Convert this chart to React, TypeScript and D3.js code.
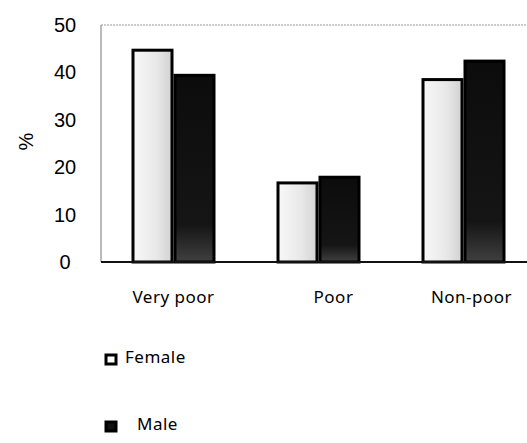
import React from "react";
import * as d3 from "d3";

const categories = ["Very poor", "Poor", "Non-poor"];
const seriesNames = ["Female", "Male"];
const femaleValues = [45, 17, 38.8];
const maleValues = [39.7, 18.2, 42.7];
const yTicks = [0, 10, 20, 30, 40, 50];

const W = 527;
const H = 443;

export default function App() {
  const x = d3.scaleBand<string>().domain(categories).range([101, 536]).paddingInner(0).paddingOuter(0);
  const y = d3.scaleLinear().domain([0, 50]).range([262, 25]);
  const barW = 42;
  const labelDx = [0, 15, 8];
  const fills = ["url(#femFill)", "url(#maleFill)"];
  const series = [femaleValues, maleValues];
  const labelFont = "Noto Sans, sans-serif";

  return (
    <svg width={W} height={H} style={{ position: "absolute", left: 0, top: 0, background: "#fff" }}>
      <defs>
        <linearGradient id="femFill" x1="0" y1="0" x2="1" y2="0">
          <stop offset="0" stopColor="#f8f8f8" />
          <stop offset="0.6" stopColor="#e8e8e8" />
          <stop offset="1" stopColor="#d2d2d2" />
        </linearGradient>
        <linearGradient id="maleFill" x1="0" y1="0" x2="0" y2="1">
          <stop offset="0" stopColor="#0c0c0c" />
          <stop offset="0.8" stopColor="#151515" />
          <stop offset="1" stopColor="#404040" />
        </linearGradient>
      </defs>
      <line x1={101} x2={W} y1={y(50)} y2={y(50)} stroke="#999" strokeWidth={1} strokeDasharray="2,1" />
      <line x1={101} x2={101} y1={y(50)} y2={y(0)} stroke="#777" strokeWidth={1} />
      {yTicks.map((t) => (
        <text key={t} x={65} y={y(t)} dy="0.35em" textAnchor="middle" fontFamily="Liberation Sans, Arial, sans-serif" fontSize={20} fill="#000">
          {t}
        </text>
      ))}
      <text transform={`translate(26,${(y(50) + y(0)) / 2 - 2}) rotate(-90)`} textAnchor="middle" dy="0.35em" fontFamily="Liberation Sans, Arial, sans-serif" fontSize={20} fill="#000">
        %
      </text>
      {categories.map((c, i) => {
        const cx = (x(c) as number) + x.bandwidth() / 2;
        return (
          <g key={c}>
            {series.map((vals, s) => (
              <rect
                key={s}
                x={cx - barW + s * barW + 1.5}
                y={y(vals[i]) + 1.5}
                width={barW - 3}
                height={y(0) - y(vals[i]) - 1.5}
                fill={fills[s]}
                stroke="#000"
                strokeWidth={3}
              />
            ))}
            <text x={cx + labelDx[i]} y={303} textAnchor="middle" fontFamily={labelFont} fontSize={17} letterSpacing={0.5} fill="#000">
              {c}
            </text>
          </g>
        );
      })}
      <line x1={101} x2={W} y1={y(0)} y2={y(0)} stroke="#111" strokeWidth={2} />
      {seriesNames.map((n, s) => {
        const ly = s === 0 ? 355 : 422;
        return (
          <g key={n}>
            <rect x={106} y={ly} width={10} height={9} fill={s === 0 ? "#fff" : "#111"} stroke="#000" strokeWidth={3} />
            <text x={s === 0 ? 125 : 137} y={ly + 8} fontFamily={labelFont} fontSize={17} letterSpacing={0.5} fill="#000">
              {n}
            </text>
          </g>
        );
      })}
    </svg>
  );
}
